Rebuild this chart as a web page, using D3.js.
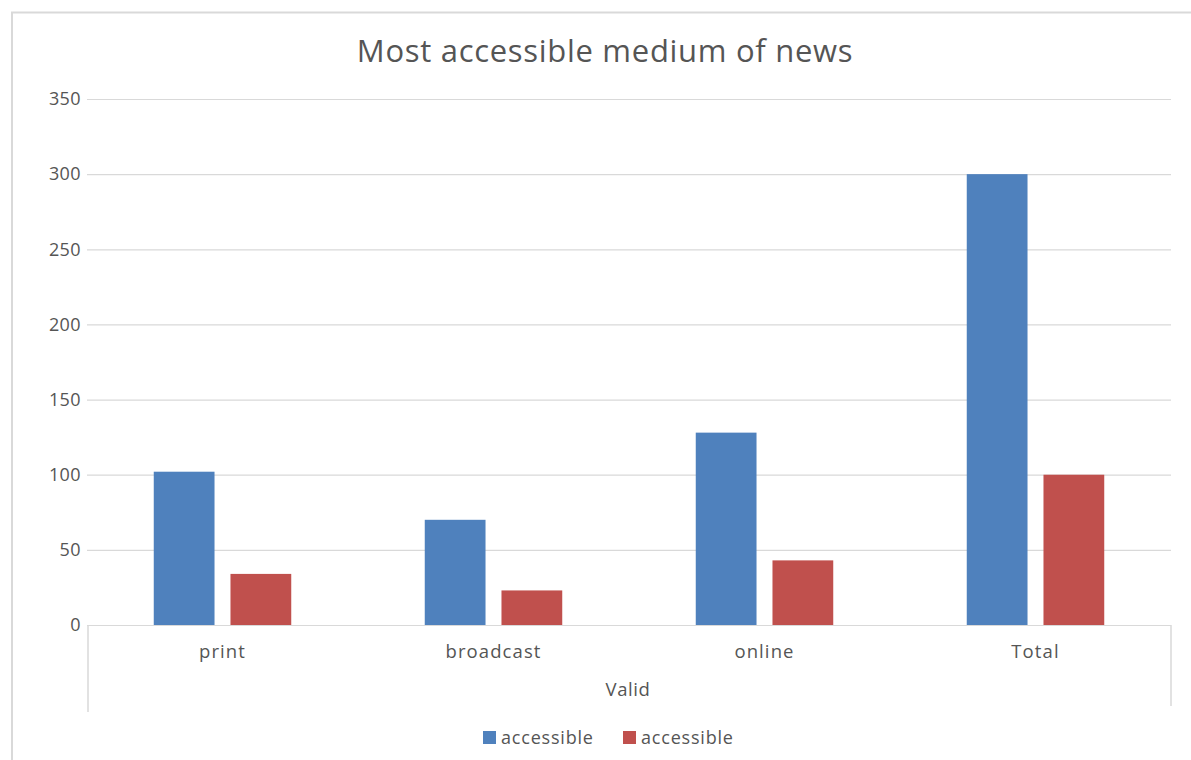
<!DOCTYPE html>
<html>
<head>
<meta charset="utf-8">
<script src="https://cdn.jsdelivr.net/npm/d3@7"></script>
<style>
  html, body { margin: 0; padding: 0; background: #fff; }
  svg { display: block; font-family: "Open Sans", Lato, sans-serif; }
</style>
</head>
<body>
<svg id="chart" width="1191" height="760"></svg>
<script>
const title = "Most accessible medium of news";
const categories = ["print", "broadcast", "online", "Total"];
const groupLabel = "Valid";
const seriesNames = ["accessible", "accessible"];
const seriesA = [102, 70, 128, 300];
const seriesB = [34, 23, 43, 100];
const yTicks = [0, 50, 100, 150, 200, 250, 300, 350];
const colors = ["#4f81bd", "#c0504d"];

const svg = d3.select("#chart");
const W = 1191, H = 760;
const plot = { left: 87, right: 1171, top: 99, bottom: 625 };
const textColor = "#555555";

// chart frame (left and top edges visible)
svg.append("rect")
  .attr("x", 12).attr("y", 12.5)
  .attr("width", W + 20).attr("height", H + 20)
  .attr("fill", "#fff").attr("stroke", "#d9d9d9").attr("stroke-width", 2);

svg.append("text")
  .attr("x", 605).attr("y", 62)
  .attr("text-anchor", "middle")
  .attr("font-size", 31)
  .attr("letter-spacing", 0.7)
  .attr("fill", textColor)
  .text(title);

const y = d3.scaleLinear().domain([0, 350]).range([plot.bottom, plot.top]);
const x = d3.scaleBand().domain(categories).range([plot.left, plot.right]).paddingInner(0).paddingOuter(0);
const x1 = d3.scaleBand().domain([0, 1]).range([0, x.bandwidth()]).paddingInner(0.208).paddingOuter(0.87);

// gridlines
svg.append("g")
  .attr("transform", `translate(${plot.left},0)`)
  .call(d3.axisLeft(y).tickValues(yTicks).tickSize(-(plot.right - plot.left)).tickFormat(""))
  .call(g => g.select(".domain").remove())
  .call(g => g.selectAll("line").attr("stroke", "#d9d9d9").attr("stroke-width", 1.2));

// y labels
svg.append("g")
  .attr("transform", `translate(${plot.left},0)`)
  .call(d3.axisLeft(y).tickValues(yTicks).tickSize(0))
  .call(g => g.select(".domain").remove())
  .call(g => g.selectAll("text")
    .attr("font-size", 18).attr("fill", textColor)
    .attr("letter-spacing", 0.4)
    .attr("font-family", "'Open Sans', Lato, sans-serif")
    .attr("text-anchor", "end").attr("x", -6));

// bars
const rows = categories.map((c, i) => ({ c, vals: [seriesA[i], seriesB[i]] }));
const grp = svg.append("g").selectAll("g").data(rows).join("g")
  .attr("transform", d => `translate(${x(d.c)},0)`);
grp.selectAll("rect").data(d => d.vals.map((v, k) => ({ v, k }))).join("rect")
  .attr("x", d => x1(d.k))
  .attr("width", x1.bandwidth())
  .attr("y", d => y(d.v))
  .attr("height", d => y(0) - y(d.v))
  .attr("fill", d => colors[d.k]);

// category axis with group level
const axisG = svg.append("g");
axisG.append("line")
  .attr("x1", plot.left).attr("x2", plot.right)
  .attr("y1", plot.bottom + 0.5).attr("y2", plot.bottom + 0.5)
  .attr("stroke", "#d9d9d9").attr("stroke-width", 1.2);
axisG.append("line")
  .attr("x1", plot.left + 1).attr("x2", plot.left + 1)
  .attr("y1", plot.bottom).attr("y2", 712)
  .attr("stroke", "#d9d9d9").attr("stroke-width", 1.5);
axisG.append("line")
  .attr("x1", plot.right).attr("x2", plot.right)
  .attr("y1", plot.bottom).attr("y2", 706)
  .attr("stroke", "#d9d9d9").attr("stroke-width", 1.5);
axisG.selectAll("text.cat").data(categories).join("text")
  .attr("class", "cat")
  .attr("x", d => x(d) + x.bandwidth() / 2)
  .attr("y", 658)
  .attr("text-anchor", "middle")
  .attr("font-size", 18.5)
  .attr("letter-spacing", 1.1)
  .attr("fill", textColor)
  .text(d => d);
axisG.append("text")
  .attr("x", 628)
  .attr("y", 696)
  .attr("text-anchor", "middle")
  .attr("font-size", 18.5)
  .attr("letter-spacing", 0.6)
  .attr("fill", textColor)
  .text(groupLabel);

// legend
const legend = svg.append("g");
const legendX = [483, 623];
seriesNames.forEach((name, i) => {
  legend.append("rect")
    .attr("x", legendX[i]).attr("y", 731)
    .attr("width", 13).attr("height", 13)
    .attr("fill", colors[i]);
  legend.append("text")
    .attr("x", legendX[i] + 18).attr("y", 744)
    .attr("font-size", 18)
    .attr("letter-spacing", 0.8)
    .attr("fill", textColor)
    .text(name);
});
</script>
</body>
</html>
